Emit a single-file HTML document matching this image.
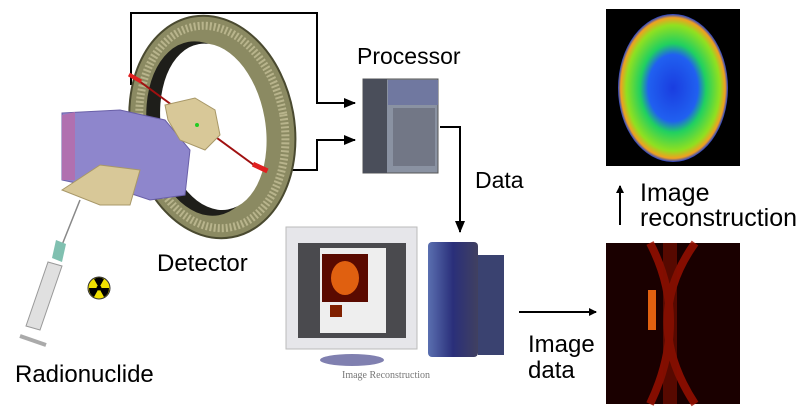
<!DOCTYPE html>
<html><head><style>
body{margin:0;background:#fff;}
svg{display:block}
text{font-family:"Liberation Sans","DejaVu Sans",sans-serif;}
</style></head><body>
<svg width="800" height="416" viewBox="0 0 800 416" xmlns="http://www.w3.org/2000/svg">
<defs>
<radialGradient id="brain" cx="50%" cy="50%" r="50%">
<stop offset="0" stop-color="#1a3de0"/><stop offset="0.45" stop-color="#2060f0"/><stop offset="0.6" stop-color="#20d060"/><stop offset="0.85" stop-color="#90e020"/><stop offset="0.95" stop-color="#f0a020"/><stop offset="1" stop-color="#2040d0"/>
</radialGradient>
<linearGradient id="tower" x1="0" x2="1"><stop offset="0" stop-color="#5a6fb0"/><stop offset="0.5" stop-color="#2a2f7a"/><stop offset="1" stop-color="#404060"/></linearGradient>
<marker id="ah" markerWidth="8" markerHeight="8" refX="7" refY="4" orient="auto" markerUnits="userSpaceOnUse"><path d="M0,0 L8,4 L0,8 z" fill="#000"/></marker>
<marker id="ah2" markerWidth="12" markerHeight="10" refX="11" refY="5" orient="auto" markerUnits="userSpaceOnUse"><path d="M0,0 L12,5 L0,10 z" fill="#000"/></marker>
</defs>
<polyline points="131,85 131,13 317,13 317,103 355,103" fill="none" stroke="#000" stroke-width="2" marker-end="url(#ah2)"/>
<polyline points="268,170 317,170 317,140 355,140" fill="none" stroke="#000" stroke-width="2" marker-end="url(#ah2)"/>
<polyline points="440,127 460,127 460,232" fill="none" stroke="#000" stroke-width="2" marker-end="url(#ah2)"/>
<g transform="rotate(-10 212 125)">
<ellipse cx="212" cy="127" rx="82" ry="112" fill="#8b8a62" stroke="#4a4a30" stroke-width="2"/>
<ellipse cx="212" cy="127" rx="72" ry="102" fill="none" stroke="#b8b48c" stroke-width="8" stroke-dasharray="2 2"/>
<ellipse cx="203" cy="127" rx="56" ry="88" fill="#1e1e1a"/>
<ellipse cx="213" cy="127" rx="52" ry="84" fill="#fff"/>
</g>
<line x1="135" y1="78" x2="258" y2="168" stroke="#a01010" stroke-width="2"/>
<rect x="128" y="76" width="14" height="4" fill="#e02020" transform="rotate(30 135 78)"/>
<rect x="252" y="165" width="16" height="5" fill="#e02020" transform="rotate(25 260 168)"/>
<polygon points="62,113 120,110 165,120 190,150 185,195 150,200 120,190 85,185 62,180" fill="#8e86cc" stroke="#6a60a8"/>
<polygon points="62,115 75,112 75,180 62,180" fill="#b070b0"/>
<polygon points="165,105 195,98 215,110 220,135 205,150 180,140 168,120" fill="#d8c898" stroke="#a89868"/>
<polygon points="62,190 100,165 140,170 130,205 100,205" fill="#d8c898" stroke="#a89868"/>
<circle cx="197" cy="125" r="2" fill="#2c2"/>
<line x1="80" y1="200" x2="62" y2="245" stroke="#888" stroke-width="1.5"/>
<polygon points="56,240 66,244 62,262 52,258" fill="#80c0b0"/>
<polygon points="48,262 62,266 40,330 26,326" fill="#e0e0e0" stroke="#999"/>
<line x1="20" y1="336" x2="46" y2="345" stroke="#aaa" stroke-width="4"/>
<circle cx="99" cy="288" r="11" fill="#f0e000" stroke="#333"/>
<circle cx="99" cy="288" r="2.5" fill="#000"/>
<path d="M99,288 L94,279 A10,10 0 0 1 104,279 Z M99,288 L109,288 A10,10 0 0 1 104,297 Z M99,288 L94,297 A10,10 0 0 1 89,288 Z" fill="#000"/>
<rect x="363" y="79" width="75" height="94" fill="#8a92a2" stroke="#555"/>
<rect x="363" y="79" width="24" height="94" fill="#4a4e5a"/>
<rect x="388" y="80" width="50" height="25" fill="#7078a0"/>
<rect x="393" y="108" width="42" height="58" fill="#6b7080" opacity=".8"/>
<rect x="286" y="227" width="131" height="122" fill="#e6e6ea" stroke="#bbb"/>
<rect x="298" y="243" width="108" height="95" fill="#4a4a4e"/>
<rect x="320" y="248" width="66" height="85" fill="#eee"/>
<rect x="322" y="254" width="46" height="48" fill="#5a0a00"/>
<ellipse cx="345" cy="278" rx="14" ry="17" fill="#e06010"/>
<rect x="330" y="305" width="12" height="12" fill="#802000"/>
<ellipse cx="352" cy="360" rx="32" ry="6" fill="#8080b0"/>
<text x="342" y="378" font-size="10" fill="#777" style="font-family:'Liberation Serif',serif">Image Reconstruction</text>
<rect x="428" y="242" width="50" height="115" rx="4" fill="url(#tower)"/>
<rect x="478" y="255" width="26" height="100" fill="#3a4270"/>
<rect x="606" y="9" width="134" height="157" fill="#000"/>
<ellipse cx="673" cy="88" rx="55" ry="74" fill="url(#brain)"/>
<rect x="606" y="243" width="134" height="161" fill="#1a0000"/>
<path d="M650,243 Q690,320 650,404 M695,243 Q640,320 695,404" stroke="#a01000" stroke-width="8" fill="none" opacity=".8"/>
<path d="M670,243 L670,404" stroke="#801000" stroke-width="14" opacity=".6"/>
<rect x="648" y="290" width="8" height="40" fill="#e06010"/>
<line x1="519" y1="312" x2="596" y2="312" stroke="#000" stroke-width="2" marker-end="url(#ah)"/>
<line x1="620" y1="225" x2="620" y2="186" stroke="#000" stroke-width="2" marker-end="url(#ah)"/>
<text x="357" y="64" font-size="23">Processor</text>
<text x="157" y="271" font-size="24">Detector</text>
<text x="15" y="382" font-size="24">Radionuclide</text>
<text x="475" y="188" font-size="23">Data</text>
<text x="640" y="201" font-size="25">Image</text>
<text x="640" y="226" font-size="25">reconstruction</text>
<text x="528" y="352" font-size="24">Image</text>
<text x="528" y="378" font-size="24">data</text>
</svg>
</body></html>
